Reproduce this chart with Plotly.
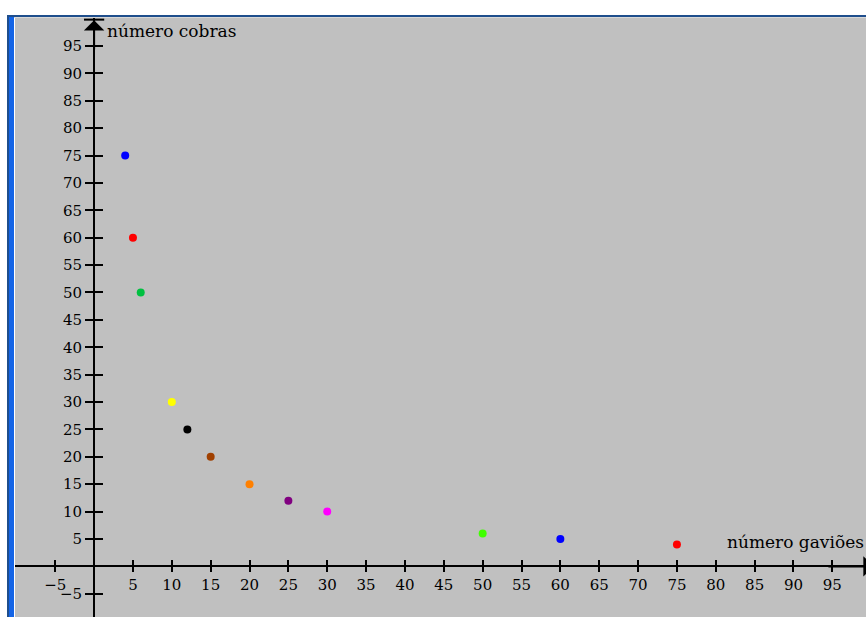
import plotly.graph_objects as go

# data: hawks (gaviões) vs snakes (cobras)
gavioes = [4, 5, 6, 10, 12, 15, 20, 25, 30, 50, 60, 75]
cobras = [75, 60, 50, 30, 25, 20, 15, 12, 10, 6, 5, 4]
cores = ['#0000FF', '#FF0000', '#00C040', '#FFFF00', '#000000', '#A04000',
         '#FF8000', '#800080', '#FF00FF', '#40FF00', '#0000FF', '#FF0000']

x_ticks = [-5] + list(range(5, 101, 5))
y_ticks = [-10, -5] + list(range(5, 100, 5))
x_range = [-10.18, 100.36]
y_range = [-10.7, 100.1]

# figure slightly larger than the 866x617 window; the overflow is cut off
W, H = 874, 625
ML, MT = 15, 18
PW, PH = W - ML, H - MT

fnt = dict(family='DejaVu Serif', size=15, color='black')

fig = go.Figure()
fig.add_trace(go.Scatter(
    x=gavioes, y=cobras, mode='markers',
    marker=dict(color=cores, size=8, line=dict(width=0)),
    hoverinfo='x+y', showlegend=False
))

# axes drawn through the origin
x_pos = -y_range[0] / (y_range[1] - y_range[0])
y_pos = -x_range[0] / (x_range[1] - x_range[0])

ax_common = dict(showgrid=False, zeroline=False, showline=True, linecolor='black',
                 linewidth=2, tickcolor='black', tickwidth=2, anchor='free')

fig.update_layout(
    width=W, height=H,
    margin=dict(l=ML, r=0, t=MT, b=0),
    paper_bgcolor='white',
    plot_bgcolor='#C0C0C0',
    font=fnt,
    xaxis=dict(range=x_range, tickvals=x_ticks, ticks='outside', ticklen=5,
               position=x_pos, tickfont=fnt, **ax_common),
    xaxis2=dict(range=x_range, tickvals=x_ticks, ticks='inside', ticklen=5,
                overlaying='x', position=x_pos, showticklabels=False, **ax_common),
    yaxis=dict(range=y_range, tickvals=y_ticks, ticks='outside', ticklen=8,
               position=y_pos, tickfont=fnt, **ax_common),
    yaxis2=dict(range=y_range, tickvals=y_ticks, ticks='inside', ticklen=8,
                overlaying='y', position=y_pos, showticklabels=False, **ax_common),
)

# dummy trace so the overlay axes render
fig.add_trace(go.Scatter(x=[None], y=[None], xaxis='x2', yaxis='y2',
                         showlegend=False, hoverinfo='skip'))

# arrows at the axis ends (right arrow sits at the window edge)
x_edge = 99.3
fig.add_annotation(x=0, y=y_range[1] - 0.4, ax=0, ay=y_range[1] - 6,
                   xref='x', yref='y', axref='x', ayref='y', text='',
                   showarrow=True, arrowhead=1, arrowsize=1.7, arrowwidth=2,
                   arrowcolor='black')
fig.add_shape(type='line', xref='x', yref='y', x0=-1.3, x1=1.3,
              y0=y_range[1] - 0.3, y1=y_range[1] - 0.3,
              line=dict(color='black', width=2))
fig.add_annotation(x=x_edge + 1, y=0, ax=x_edge - 5, ay=0,
                   xref='x', yref='y', axref='x', ayref='y', text='',
                   showarrow=True, arrowhead=1, arrowsize=1.7, arrowwidth=2,
                   arrowcolor='black')

# axis titles
title_font = dict(family='DejaVu Serif', size=17, color='black')
fig.add_annotation(x=0, y=1, xref='x', yref='paper', xanchor='left', yanchor='top',
                   xshift=11, yshift=-1, text='número cobras', showarrow=False,
                   font=title_font)
fig.add_annotation(x=x_edge, y=0, xref='x', yref='y', xanchor='right', yanchor='bottom',
                   xshift=0, yshift=12, text='número gaviões', showarrow=False,
                   font=title_font)

# window frame (blue border top and left), positions in screen pixels
def px_x(p):
    return (p - ML) / PW

def px_y(p):
    return 1 - (p - MT) / PH

fig.add_shape(type='rect', xref='paper', yref='paper', layer='above',
              x0=px_x(7), x1=1, y0=px_y(17), y1=px_y(15),
              fillcolor='#1F4E8C', line=dict(width=0))
fig.add_shape(type='rect', xref='paper', yref='paper', layer='above',
              x0=px_x(7), x1=1, y0=px_y(18), y1=px_y(17),
              fillcolor='#D8D8D8', line=dict(width=0))
fig.add_shape(type='rect', xref='paper', yref='paper', layer='above',
              x0=px_x(7), x1=px_x(9), y0=0, y1=px_y(15),
              fillcolor='#1F4E8C', line=dict(width=0))
fig.add_shape(type='rect', xref='paper', yref='paper', layer='above',
              x0=px_x(9), x1=px_x(14), y0=0, y1=px_y(17),
              fillcolor='#1464E6', line=dict(width=0))

fig.write_html(
    "out.html",
    config={'displayModeBar': False},
    post_script="document.body.style.margin='0';"
                "document.documentElement.style.overflow='hidden';"
                "document.body.style.overflow='hidden';"
)
